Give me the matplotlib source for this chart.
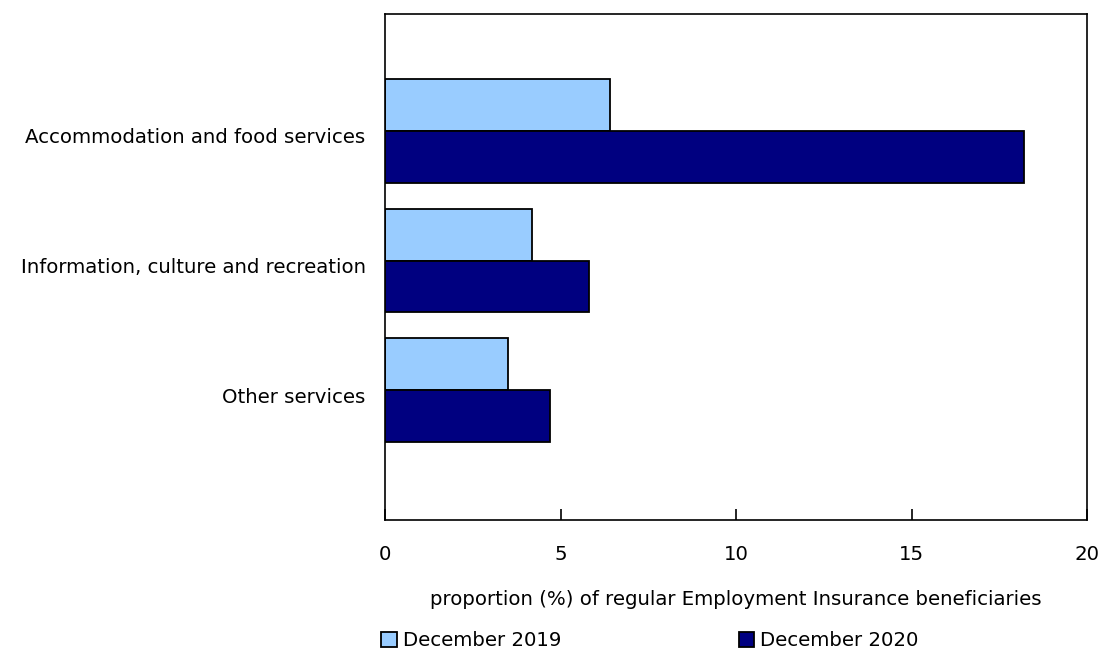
import matplotlib.pyplot as plt
import numpy as np

# data
categories = ["Accommodation and food services",
              "Information, culture and recreation",
              "Other services"]
dec_2019 = [6.4, 4.2, 3.5]
dec_2020 = [18.2, 5.8, 4.7]
series_names = ["December 2019", "December 2020"]
xticks = [0, 5, 10, 15, 20]

plt.rcParams['font.family'] = ['DejaVu Sans']
fs = 14.2

fig = plt.figure(figsize=(11.01, 6.53), dpi=100)
ax = fig.add_axes([385 / 1101, 1 - 520 / 653, 702 / 1101, 506 / 653])

y = np.arange(len(categories))
h = 0.4
ax.barh(y - h / 2, dec_2019, height=h, color="#99ccff", edgecolor="black",
        linewidth=1.3, label=series_names[0])
ax.barh(y + h / 2, dec_2020, height=h, color="#000080", edgecolor="black",
        linewidth=1.3, label=series_names[1])

ax.set_xlim(0, 20)
ax.set_ylim(3.0, -0.9)
ax.set_xticks(xticks)
ax.set_xticklabels([str(t) for t in xticks], fontsize=fs)
ax.set_yticks(y + 0.04)
ax.set_yticklabels(categories, fontsize=fs)
ax.tick_params(axis="y", length=0, pad=14)
ax.tick_params(axis="x", direction="in", length=8, width=1.2, pad=18)
for s in ax.spines.values():
    s.set_linewidth(1.2)

ax.set_xlabel("proportion (%) of regular Employment Insurance beneficiaries",
              fontsize=fs, labelpad=19)

fig.legend(loc="upper left", bbox_to_anchor=(381 / 1101, 1 - 631 / 653),
           ncol=2, frameon=False, fontsize=fs, handlelength=0.8,
           handleheight=0.8, handletextpad=0.3, columnspacing=9.0,
           borderaxespad=0, borderpad=0)

fig.savefig("out.png", dpi=100)
